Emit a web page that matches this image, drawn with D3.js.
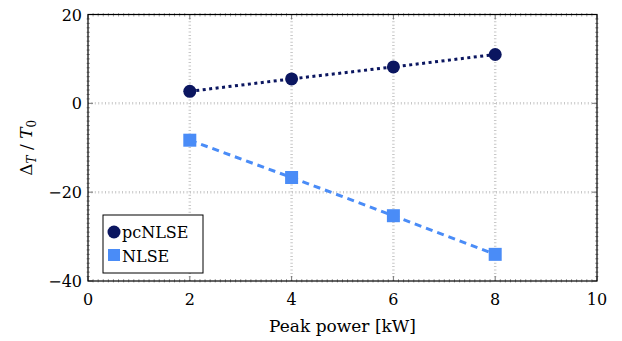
<!DOCTYPE html>
<html>
<head>
<meta charset="utf-8">
<script src="https://cdn.jsdelivr.net/npm/d3@7"></script>
<style>
  body { margin: 0; background: #fff; }
</style>
</head>
<body>
<div id="chart"></div>
<script>
// dades
const power = [2, 4, 6, 8];
const pcNLSE = [2.7, 5.5, 8.2, 11.0];
const NLSE = [-8.3, -16.7, -25.3, -34.0];
const xTicks = [0, 2, 4, 6, 8, 10];
const yTicks = [-40, -20, 0, 20];
const seriesNames = ["pcNLSE", "NLSE"];

const FONT = "'DejaVu Serif', serif";
const W = 622, H = 341;
const margin = { top: 14.5, right: 25, bottom: 60, left: 88 };
const width = W - margin.left - margin.right;
const height = H - margin.top - margin.bottom;

const svg = d3.select("#chart").append("svg")
    .attr("width", W).attr("height", H)
    .attr("font-family", FONT);
const g = svg.append("g")
    .attr("transform", `translate(${margin.left}, ${margin.top})`);

const x = d3.scaleLinear().domain([0, 10]).range([0, width]);
const y = d3.scaleLinear().domain([-40, 20]).range([height, 0]);

// graella
g.selectAll(".gx").data(xTicks.slice(1, -1)).enter().append("line")
    .attr("x1", d => x(d)).attr("x2", d => x(d))
    .attr("y1", 0).attr("y2", height)
    .attr("stroke", "#c8c8c8").attr("stroke-width", 2.5)
    .attr("stroke-dasharray", "1,2.4");
g.selectAll(".gy").data(yTicks.slice(1, -1)).enter().append("line")
    .attr("y1", d => y(d)).attr("y2", d => y(d))
    .attr("x1", 0).attr("x2", width)
    .attr("stroke", "#c8c8c8").attr("stroke-width", 2.5)
    .attr("stroke-dasharray", "1,2.4");

// ticks menors
const xMinor = d3.range(0, 10.001, 0.1).filter(v => Math.abs(v / 2 - Math.round(v / 2)) > 1e-6);
const yMinor = d3.range(-40, 20.001, 1).filter(v => v % 20 !== 0);
const minor = g.append("g").attr("stroke", "#8a8a8a").attr("stroke-width", 0.8);
xMinor.forEach(v => {
    minor.append("line").attr("x1", x(v)).attr("x2", x(v)).attr("y1", height + 1.5).attr("y2", height - 2);
    minor.append("line").attr("x1", x(v)).attr("x2", x(v)).attr("y1", -1.5).attr("y2", 2);
});
yMinor.forEach(v => {
    minor.append("line").attr("y1", y(v)).attr("y2", y(v)).attr("x1", -1.5).attr("x2", 2);
    minor.append("line").attr("y1", y(v)).attr("y2", y(v)).attr("x1", width + 1.5).attr("x2", width - 2);
});

// ticks majors
const major = g.append("g").attr("stroke", "#777").attr("stroke-width", 1);
xTicks.forEach(v => {
    major.append("line").attr("x1", x(v)).attr("x2", x(v)).attr("y1", height).attr("y2", height - 5);
    major.append("line").attr("x1", x(v)).attr("x2", x(v)).attr("y1", 0).attr("y2", 5);
});
yTicks.forEach(v => {
    major.append("line").attr("y1", y(v)).attr("y2", y(v)).attr("x1", 0).attr("x2", 5);
    major.append("line").attr("y1", y(v)).attr("y2", y(v)).attr("x1", width).attr("x2", width - 5);
});

// marc
g.append("rect")
    .attr("width", width).attr("height", height)
    .attr("fill", "none").attr("stroke", "#000").attr("stroke-width", 1.2);

// etiquetes dels eixos
g.selectAll(".xl").data(xTicks).enter().append("text")
    .attr("x", d => x(d)).attr("y", height + 24)
    .attr("text-anchor", "middle").style("font-size", "16px")
    .text(d => d);
g.selectAll(".yl").data(yTicks).enter().append("text")
    .attr("x", -6).attr("y", d => y(d) + 6)
    .attr("text-anchor", "end").style("font-size", "16px")
    .text(d => d < 0 ? "\u2212" + Math.abs(d) : d);

g.append("text")
    .attr("x", width / 2).attr("y", height + 51)
    .attr("text-anchor", "middle").style("font-size", "17px")
    .text("Peak power [kW]");

const yLab = svg.append("text")
    .attr("transform", `translate(32, ${margin.top + y(-10)}) rotate(-90)`)
    .attr("text-anchor", "middle").style("font-size", "17px");
yLab.append("tspan").text("\u0394");
yLab.append("tspan").attr("font-style", "italic").attr("font-size", "12px").attr("dy", 4).text("T");
yLab.append("tspan").attr("dy", -4).text(" / ");
yLab.append("tspan").attr("font-style", "italic").text("T");
yLab.append("tspan").attr("font-size", "12px").attr("dy", 4).text("0");

// colors
const colors = { pc: "#0b1660", nl: "#4a8cf7" };

const line = d3.line().x(d => x(d[0])).y(d => y(d[1]));

g.append("path")
    .datum(power.map((p, i) => [p, pcNLSE[i]]))
    .attr("d", line).attr("fill", "none")
    .attr("stroke", colors.pc).attr("stroke-width", 3)
    .attr("stroke-dasharray", "3,3.5");
g.append("path")
    .datum(power.map((p, i) => [p, NLSE[i]]))
    .attr("d", line).attr("fill", "none")
    .attr("stroke", colors.nl).attr("stroke-width", 3)
    .attr("stroke-dasharray", "7,5");

g.selectAll(".pt-pc").data(power).enter().append("circle")
    .attr("cx", d => x(d)).attr("cy", (d, i) => y(pcNLSE[i]))
    .attr("r", 6.5).attr("fill", colors.pc);
g.selectAll(".pt-nl").data(power).enter().append("rect")
    .attr("x", d => x(d) - 6.5).attr("y", (d, i) => y(NLSE[i]) - 6.5)
    .attr("width", 13).attr("height", 13).attr("fill", colors.nl);

// llegenda
const legend = svg.append("g").attr("transform", "translate(103, 215)");
legend.append("rect")
    .attr("width", 100).attr("height", 58)
    .attr("fill", "#fff").attr("stroke", "#000").attr("stroke-width", 1);
legend.append("circle").attr("cx", 11).attr("cy", 17).attr("r", 6.5).attr("fill", colors.pc);
legend.append("text").attr("x", 19).attr("y", 23).style("font-size", "16px").text(seriesNames[0]);
legend.append("rect").attr("x", 5).attr("y", 34).attr("width", 12).attr("height", 12).attr("fill", colors.nl);
legend.append("text").attr("x", 19).attr("y", 47).style("font-size", "16px").text(seriesNames[1]);
</script>
</body>
</html>
